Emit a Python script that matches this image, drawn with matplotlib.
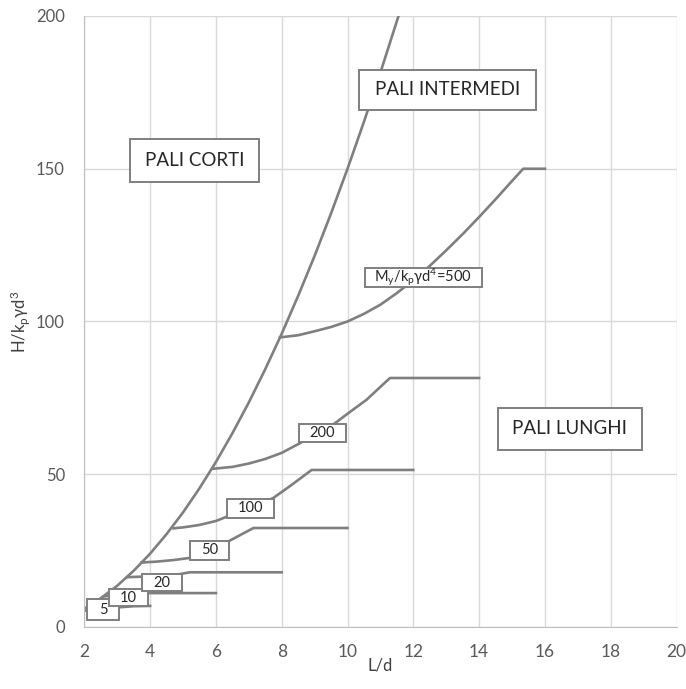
import matplotlib
matplotlib.use("Agg")
import matplotlib.pyplot as plt
from matplotlib.patches import Rectangle

plt.rcParams['font.family'] = ['Lato', 'DejaVu Sans']
plt.rcParams['mathtext.default'] = 'regular'

# main boundary curve (pali corti / pali intermedi)
main_x = [2.0, 2.5, 3.0, 3.5, 4.0, 4.5, 5.0, 5.5, 6.0, 6.5, 7.0, 7.5, 8.0, 8.5, 9.0, 9.5, 10.0, 10.5, 11.0, 11.55]
main_y = [6.0, 9.4, 13.5, 18.4, 24.0, 30.4, 37.5, 45.4, 54.0, 63.4, 73.5, 84.4, 96.0, 108.4, 121.5, 135.4, 150.0, 165.4, 181.5, 200.0]

# My/kp*gamma*d^4 curves
s5_x = [2.0, 2.5, 3.0, 3.5, 4.0]
s5_y = [5.3, 5.9, 6.4, 6.8, 6.9]
s10_x = [2.6, 3.0, 3.5, 3.9, 6.0]
s10_y = [10.0, 10.5, 10.9, 11.1, 11.1]
s20_x = [3.3, 3.8, 4.3, 4.9, 5.2, 8.0]
s20_y = [16.3, 16.5, 16.8, 17.3, 17.9, 17.9]
s50_x = [3.74, 4.2, 4.7, 5.2, 5.8, 6.41, 7.14, 10.0]
s50_y = [21.1, 21.4, 21.9, 22.6, 24.6, 28.2, 32.4, 32.4]
s100_x = [4.71, 5.0, 5.5, 6.0, 6.33, 7.0, 7.74, 8.3, 8.91, 12.0]
s100_y = [32.3, 32.6, 33.4, 34.7, 36.1, 38.8, 42.2, 46.5, 51.4, 51.4]
s200_x = [5.92, 6.5, 7.0, 7.5, 8.0, 8.56, 9.0, 9.62, 10.0, 10.58, 11.29, 14.0]
s200_y = [51.8, 52.4, 53.5, 55.0, 57.0, 60.2, 63.0, 66.7, 69.8, 74.4, 81.5, 81.5]
s500_x = [7.95, 8.5, 9.0, 9.5, 10.0, 10.5, 11.0, 11.5, 12.0, 12.5, 13.0, 13.5, 14.0, 14.5, 15.0, 15.34, 16.0]
s500_y = [94.8, 95.5, 96.8, 98.2, 100.0, 102.5, 105.5, 109.3, 113.5, 118.2, 123.3, 128.6, 134.2, 140.0, 146.0, 150.0, 150.0]

series_x = [s5_x, s10_x, s20_x, s50_x, s100_x, s200_x, s500_x]
series_y = [s5_y, s10_y, s20_y, s50_y, s100_y, s200_y, s500_y]

# curve labels
curve_labels = ['5', '10', '20', '50', '100', '200', '$M_y/k_p$γ$d^4$=500']
label_x = [2.57, 3.35, 4.35, 5.81, 7.04, 9.23, 12.3]
label_y = [5.7, 9.5, 14.5, 25.1, 38.9, 63.4, 114.5]

# zone labels
zone_labels = ['PALI CORTI', 'PALI INTERMEDI', 'PALI LUNGHI']
zone_x = [5.36, 13.05, 16.75]
zone_y = [152.6, 175.9, 64.9]

line_col = '#7f7f7f'
# box sizes in pixels (w, h)
curve_box = [(32, 21), (39, 17), (40, 17), (39, 19), (47, 19), (47, 18), (117, 19)]
zone_box = [(129, 43), (177, 40), (144, 42)]

fig = plt.figure(figsize=(6.86, 6.89), dpi=100)
ax = fig.add_axes([0.1229, 0.09, 0.8633, 0.8868])
ax.set_xlim(2, 20)
ax.set_ylim(0, 200)

dx = 18 / (0.8633 * 686)
dy = 200 / (0.8868 * 689)


def boxed(x, y, t, size, fs):
    w, h = size[0] * dx, size[1] * dy
    ax.add_patch(Rectangle((x - w / 2, y - h / 2), w, h, fc='white', ec=line_col,
                           lw=1.4, zorder=4, clip_on=False))
    ax.text(x, y, t, ha='center', va='center', fontsize=fs, color='#262626', zorder=5)


ax.plot(main_x, main_y, color=line_col, lw=1.9)
for xs, ys in zip(series_x, series_y):
    ax.plot(xs, ys, color=line_col, lw=1.9)

for t, x, y, s in zip(curve_labels, label_x, label_y, curve_box):
    boxed(x, y, t, s, 10.5)

for t, x, y, s in zip(zone_labels, zone_x, zone_y, zone_box):
    boxed(x, y, t, s, 13.5)

ax.set_xticks(range(2, 21, 2))
ax.set_yticks(range(0, 201, 50))
ax.grid(True, color='#d9d9d9', lw=1)
ax.set_axisbelow(True)
ax.tick_params(axis='x', length=0, labelsize=12.5, colors='#595959', pad=12)
ax.tick_params(axis='y', length=0, labelsize=12, colors='#595959', pad=14)
for s in ['top', 'right']:
    ax.spines[s].set_visible(False)
for s in ['left', 'bottom']:
    ax.spines[s].set_color('#bfbfbf')
ax.set_xlabel('L/d', fontsize=12, color='#404040')
ax.set_ylabel('H/$k_p$γ$d^3$', fontsize=12, color='#404040')
ax.xaxis.set_label_coords(0.5, -0.05)
ax.yaxis.set_label_coords(-0.088, 0.5)

fig.savefig('out.png', dpi=100)
